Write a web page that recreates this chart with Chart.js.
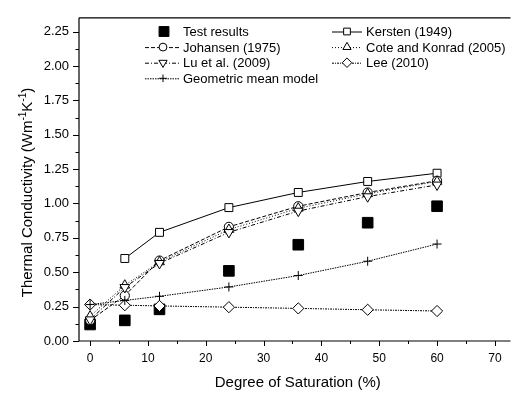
<!DOCTYPE html>
<html>
<head>
<meta charset="utf-8">
<script src="https://cdn.jsdelivr.net/npm/chart.js@4/dist/chart.umd.min.js"></script>
<style>
html,body{margin:0;padding:0;background:#fff;overflow:hidden;}
canvas{display:block;}
</style>
</head>
<body>
<canvas id="c" width="519" height="397"></canvas>
<script>
// ---- data ----
const saturation = [0, 6, 12, 24, 36, 48, 60];
const testResults = [0.12, 0.15, 0.23, 0.51, 0.70, 0.86, 0.98];
const kersten = [null, 0.60, 0.79, 0.97, 1.08, 1.16, 1.22];
const johansen = [0.15, 0.33, 0.585, 0.83, 0.98, 1.08, 1.165];
const coteKonrad = [0.18, 0.405, 0.575, 0.81, 0.965, 1.07, 1.16];
const luEtAl = [0.155, 0.39, 0.565, 0.79, 0.945, 1.05, 1.135];
const lee = [0.265, 0.26, 0.255, 0.246, 0.237, 0.227, 0.218];
const geometricMean = [0.265, 0.295, 0.325, 0.393, 0.476, 0.58, 0.705];

const xTicks = [0, 10, 20, 30, 40, 50, 60, 70];
const xMinorTicks = [5, 15, 25, 35, 45, 55, 65];
const yTicks = [0, 0.25, 0.5, 0.75, 1.0, 1.25, 1.5, 1.75, 2.0, 2.25];
const yMinorTicks = [0.125, 0.375, 0.625, 0.875, 1.125, 1.375, 1.625, 1.875, 2.125];

const seriesNames = ['Test results', 'Kersten (1949)', 'Johansen (1975)', 'Cote and Konrad (2005)',
  'Lu et al. (2009)', 'Lee (2010)', 'Geometric mean model'];

const FONT = '"Liberation Sans", Arial, sans-serif';

function pts(arr) { return saturation.map((x, i) => ({x: x, y: arr[i]})).filter(p => p.y !== null); }

const styles = [
  {data: testResults, style: 'rect', r: 7.5, fill: '#000', dash: null, line: false, rot: 0, order: 10},
  {data: kersten, style: 'rect', r: 5.6, fill: '#fff', dash: [], line: true, rot: 0, order: 6},
  {data: johansen, style: 'circle', r: 4.6, fill: '#fff', dash: [4, 2], line: true, rot: 0, order: 5},
  {data: coteKonrad, style: 'triangle', r: 5.6, fill: '#fff', dash: [1, 2], line: true, rot: 0, order: 4},
  {data: luEtAl, style: 'triangle', r: 5.6, fill: '#fff', dash: [4, 2, 1, 2], line: true, rot: 180, order: 3},
  {data: lee, style: 'rectRot', r: 5.6, fill: '#fff', dash: [2, 1, 1, 1], line: true, rot: 0, order: 2},
  {data: geometricMean, style: 'cross', r: 4.5, fill: '#fff', dash: [1.5, 1], line: true, rot: 0, order: 1}
];

const datasets = styles.map((s, i) => ({
  label: seriesNames[i],
  data: pts(s.data),
  showLine: s.line,
  borderColor: '#000',
  borderWidth: 1,
  borderDash: s.dash || [],
  backgroundColor: s.fill,
  pointStyle: s.style,
  pointRadius: s.r,
  pointRotation: s.rot,
  pointBorderColor: '#000',
  pointBackgroundColor: s.fill,
  pointBorderWidth: 1,
  pointHoverRadius: s.r,
  tension: 0,
  order: s.order
}));

function marker(ctx, style, x, y, r, fill, rot) {
  ctx.save();
  ctx.setLineDash([]);
  ctx.lineWidth = 1;
  ctx.strokeStyle = '#000';
  ctx.fillStyle = fill;
  ctx.beginPath();
  if (style === 'rect') {
    const s = r * Math.SQRT1_2;
    ctx.rect(x - s, y - s, 2 * s, 2 * s);
  } else if (style === 'circle') {
    ctx.arc(x, y, r, 0, Math.PI * 2);
  } else if (style === 'triangle') {
    let a = rot * Math.PI / 180;
    for (let k = 0; k < 3; k++) {
      const px = x + Math.sin(a) * r, py = y - Math.cos(a) * r;
      if (k === 0) ctx.moveTo(px, py); else ctx.lineTo(px, py);
      a += 2 * Math.PI / 3;
    }
    ctx.closePath();
  } else if (style === 'rectRot') {
    ctx.moveTo(x - r, y); ctx.lineTo(x, y - r); ctx.lineTo(x + r, y); ctx.lineTo(x, y + r); ctx.closePath();
  } else if (style === 'cross') {
    ctx.moveTo(x - r, y); ctx.lineTo(x + r, y); ctx.moveTo(x, y - r); ctx.lineTo(x, y + r);
    ctx.stroke(); ctx.restore(); return;
  }
  ctx.fill();
  ctx.stroke();
  ctx.restore();
}

const framePlugin = {
  id: 'frame',
  afterDraw(chart) {
    const ctx = chart.ctx;
    const a = chart.chartArea;
    const xs = chart.scales.x, ys = chart.scales.y;
    ctx.save();
    ctx.strokeStyle = '#000';
    ctx.lineWidth = 1.2;
    ctx.setLineDash([]);
    ctx.beginPath();
    ctx.moveTo(a.left, a.top); ctx.lineTo(a.right, a.top);
    ctx.moveTo(a.left, a.top); ctx.lineTo(a.left, a.bottom);
    ctx.moveTo(a.left, a.bottom); ctx.lineTo(a.right, a.bottom);
    ctx.stroke();
    ctx.lineWidth = 1;
    ctx.beginPath();
    xTicks.forEach(v => { const p = Math.round(xs.getPixelForValue(v)) + 0.5; ctx.moveTo(p, a.bottom); ctx.lineTo(p, a.bottom + 5); });
    xMinorTicks.forEach(v => { const p = Math.round(xs.getPixelForValue(v)) + 0.5; ctx.moveTo(p, a.bottom); ctx.lineTo(p, a.bottom + 3); });
    yTicks.forEach(v => { const p = Math.round(ys.getPixelForValue(v)) + 0.5; ctx.moveTo(a.left, p); ctx.lineTo(a.left - 6, p); });
    yMinorTicks.forEach(v => { const p = Math.round(ys.getPixelForValue(v)) + 0.5; ctx.moveTo(a.left, p); ctx.lineTo(a.left - 3.5, p); });
    ctx.stroke();

    // axis titles
    ctx.fillStyle = '#000';
    ctx.font = '15px ' + FONT;
    ctx.textAlign = 'center';
    ctx.textBaseline = 'alphabetic';
    ctx.fillText('Degree of Saturation (%)', (a.left + a.right) / 2 + 3, 387);

    // y title with superscripts
    const parts = [['Thermal Conductivity (Wm', false], ['-1', true], ['K', false], ['-1', true], [')', false]];
    const normal = '15px ' + FONT, sup = '10px ' + FONT;
    let total = 0;
    parts.forEach(p => { ctx.font = p[1] ? sup : normal; total += ctx.measureText(p[0]).width; });
    ctx.save();
    ctx.translate(31.5, 192.5);
    ctx.rotate(-Math.PI / 2);
    ctx.textAlign = 'left';
    let u = -total / 2;
    parts.forEach(p => {
      ctx.font = p[1] ? sup : normal;
      ctx.fillText(p[0], u, p[1] ? -6 : 0);
      u += ctx.measureText(p[0]).width;
    });
    ctx.restore();

    // legend
    const rows = [36, 51.6, 67.2, 82.8];
    const entries = [
      {i: 0, col: 0, row: 0}, {i: 1, col: 1, row: 0},
      {i: 2, col: 0, row: 1}, {i: 3, col: 1, row: 1},
      {i: 4, col: 0, row: 2}, {i: 5, col: 1, row: 2},
      {i: 6, col: 0, row: 3}
    ];
    const cols = [{x1: 145, x2: 180, mx: 163, tx: 183}, {x1: 332, x2: 362, mx: 347, tx: 366}];
    ctx.font = '13px ' + FONT;
    ctx.textAlign = 'left';
    ctx.textBaseline = 'alphabetic';
    entries.forEach(e => {
      const s = styles[e.i], c = cols[e.col], yb = rows[e.row], yc = yb - 4.5;
      if (s.line) {
        ctx.save();
        ctx.strokeStyle = '#000'; ctx.lineWidth = 1;
        ctx.setLineDash(s.dash);
        ctx.beginPath(); ctx.moveTo(c.x1, yc + 0.5); ctx.lineTo(c.x2, yc + 0.5); ctx.stroke();
        ctx.restore();
      }
      const mr = e.i === 0 ? 7 : s.r * 0.85;
      marker(ctx, s.style, e.i === 0 ? c.mx + 1 : c.mx, yc, mr, s.fill, s.rot);
      ctx.fillStyle = '#000';
      ctx.fillText(seriesNames[e.i], c.tx, yb);
    });
    ctx.restore();
  }
};

new Chart(document.getElementById('c'), {
  type: 'scatter',
  data: {datasets: datasets},
  plugins: [framePlugin],
  options: {
    responsive: false,
    animation: false,
    layout: {padding: {top: 10, left: 0, right: 0, bottom: 0}},
    plugins: {legend: {display: false}, tooltip: {enabled: false}, title: {display: false}},
    scales: {
      x: {
        type: 'linear', min: -1.92, max: 72.7,
        afterBuildTicks: s => { s.ticks = xTicks.map(v => ({value: v})); },
        afterFit: s => { s.height = 56; },
        grid: {display: false, drawTicks: false},
        border: {display: false},
        ticks: {color: '#000', font: {family: FONT, size: 12}, padding: 10, maxRotation: 0, autoSkip: false,
          callback: v => String(v)}
      },
      y: {
        type: 'linear', min: 0, max: 2.35,
        afterBuildTicks: s => { s.ticks = yTicks.map(v => ({value: v})); },
        afterFit: s => { s.width = 79; },
        grid: {display: false, drawTicks: false},
        border: {display: false},
        ticks: {color: '#000', font: {family: FONT, size: 13}, padding: 10, autoSkip: false,
          callback: v => Number(v).toFixed(2)}
      }
    }
  }
});
</script>
</body>
</html>
